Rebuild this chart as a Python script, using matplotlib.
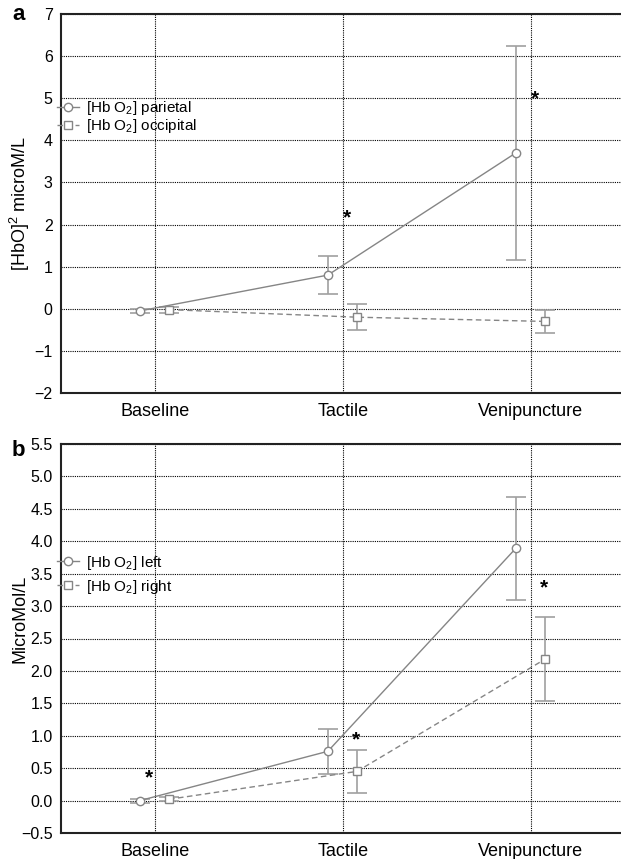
import matplotlib
matplotlib.use("Agg")
import matplotlib.pyplot as plt
import numpy as np

plt.rcParams['font.family'] = ['Liberation Sans', 'DejaVu Sans']
plt.rcParams['mathtext.fontset'] = 'custom'
plt.rcParams['mathtext.rm'] = 'Liberation Sans'
plt.rcParams['mathtext.it'] = 'Liberation Sans:italic'

categories = ["Baseline", "Tactile", "Venipuncture"]

# Panel a
a_parietal = [-0.05, 0.80, 3.70]
a_parietal_err = [0.04, 0.46, 2.55]
a_occipital = [-0.02, -0.20, -0.30]
a_occipital_err = [0.07, 0.31, 0.27]
a_star_x = [1.02, 2.02]
a_star_y = [2.15, 4.98]

# Panel b
b_left = [0.00, 0.76, 3.89]
b_left_err = [0.03, 0.35, 0.80]
b_right = [0.02, 0.45, 2.18]
b_right_err = [0.03, 0.33, 0.65]
b_star_x = [-0.03, 1.07, 2.07]
b_star_y = [0.35, 0.94, 3.28]

W, H = 621, 859
fig = plt.figure(figsize=(W/100, H/100), dpi=100)

def make_ax(top_px, bot_px):
    l = 61 / W
    r = 1.0
    b = 1 - bot_px / H
    t = 1 - top_px / H
    return fig.add_axes([l, b, r - l, t - b])

x = np.arange(len(categories))
off1, off2 = -0.08, 0.075
lcol = '#858585'
ecol = '#a0a0a0'

def style(ax, ylim, yticks, yticklabels, ylabel, ly):
    ax.set_xlim(-0.5, 2.48)
    ax.set_ylim(*ylim)
    ax.set_yticks(yticks)
    ax.set_yticklabels(yticklabels, fontsize=11.5)
    ax.set_xticks(x)
    ax.set_xticklabels(categories, fontsize=13)
    ax.tick_params(length=0, pad=6)
    ax.tick_params(axis='x', pad=7)
    ax.grid(True, color='black', linestyle=(0, (1, 1)), linewidth=0.8)
    ax.set_axisbelow(True)
    ax.spines['right'].set_visible(False)
    for s in ['top', 'left', 'bottom']:
        ax.spines[s].set_linewidth(1.5)
        ax.spines[s].set_color('#222222')
    ax.set_ylabel(ylabel, fontsize=13, va='center')
    ax.yaxis.set_label_coords(-0.074, ly)

def series(ax, xs, ys, errs, marker, ls, label):
    ax.errorbar(xs, ys, yerr=errs, fmt='none', ecolor=ecol, elinewidth=1.2,
                capsize=7, capthick=1.2, zorder=3)
    ax.plot(xs, ys, color=lcol, linestyle=ls, linewidth=1.0, marker=marker,
            markersize=6, markerfacecolor='white',
            markeredgecolor=lcol, markeredgewidth=1.0, label=label, zorder=4)

# Panel a
axa = make_ax(14, 393)
series(axa, x + off1, a_parietal, a_parietal_err, 'o', '-', r'[Hb O$_2$] parietal')
series(axa, x + off2, a_occipital, a_occipital_err, 's', (0, (4, 2.5)), r'[Hb O$_2$] occipital')
style(axa, (-2, 7), np.arange(-2, 8, 1), ["\u22122", "\u22121"] + [str(v) for v in range(0, 8)],
      r'[HbO]$^2$ microM/L', 0.5)
for sx, sy in zip(a_star_x, a_star_y):
    axa.text(sx, sy, '*', fontsize=15, fontweight='bold', ha='center', va='center', zorder=5)
axa.legend(loc='center left', bbox_to_anchor=(-0.007, 0.728), frameon=False, fontsize=11,
           handlelength=1.45, handletextpad=0.45, labelspacing=0.0, borderaxespad=0,
           borderpad=0)
fig.text(12 / W, 1 - 14 / H, 'a', fontsize=16, fontweight='bold', ha='left', va='center')

# Panel b
axb = make_ax(444, 833)
series(axb, x + off1, b_left, b_left_err, 'o', '-', r'[Hb O$_2$] left')
series(axb, x + off2, b_right, b_right_err, 's', (0, (4, 2.5)), r'[Hb O$_2$] right')
bt = np.arange(-0.5, 5.51, 0.5)
style(axb, (-0.5, 5.5), bt, [("\u2212" + f"{abs(v):.1f}") if v < 0 else f"{v:.1f}" for v in bt],
      'MicroMol/L', 0.55)
for sx, sy in zip(b_star_x, b_star_y):
    axb.text(sx, sy, '*', fontsize=15, fontweight='bold', ha='center', va='center', zorder=5)
axb.legend(loc='center left', bbox_to_anchor=(-0.007, 0.664), frameon=False, fontsize=11,
           handlelength=1.45, handletextpad=0.45, labelspacing=0.4, borderaxespad=0,
           borderpad=0)
fig.text(12 / W, 1 - 450 / H, 'b', fontsize=16, fontweight='bold', ha='left', va='center')

fig.savefig('out.png', dpi=100)
